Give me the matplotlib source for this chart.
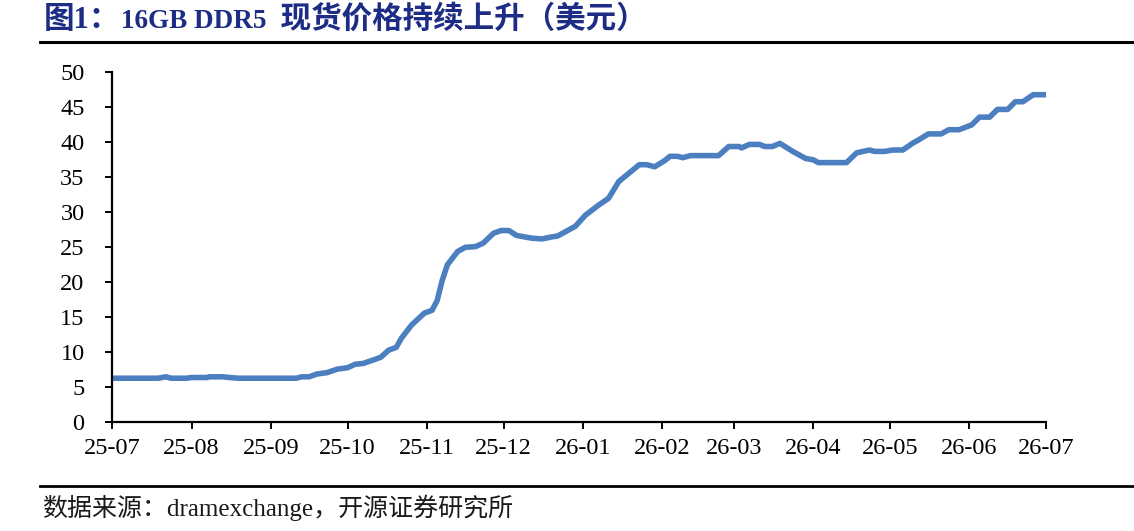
#!/usr/bin/env python3
"""16GB DDR5 spot price chart."""
import pandas as pd
import matplotlib
matplotlib.use("Agg")
import matplotlib.pyplot as plt
import matplotlib.dates as mdates
from matplotlib.lines import Line2D
from matplotlib.offsetbox import TextArea, HPacker, AnchoredOffsetbox

plt.rcParams['font.family'] = ['Liberation Serif', 'Noto Sans CJK SC']

title_parts = ["图1：", "16GB DDR5 ", " 现货价格持续上升（美元）"]
source = "数据来源：dramexchange，开源证券研究所"

dates = [
    "2025-07-01", "2025-07-19", "2025-07-22", "2025-07-24", "2025-07-30",
    "2025-08-01", "2025-08-07", "2025-08-08", "2025-08-13", "2025-08-16",
    "2025-08-19", "2025-09-11", "2025-09-13", "2025-09-16", "2025-09-19",
    "2025-09-23", "2025-09-27", "2025-10-01", "2025-10-04", "2025-10-07",
    "2025-10-11", "2025-10-14", "2025-10-17", "2025-10-20", "2025-10-22",
    "2025-10-26", "2025-10-31", "2025-11-03", "2025-11-05", "2025-11-07",
    "2025-11-09", "2025-11-13", "2025-11-16", "2025-11-20", "2025-11-23",
    "2025-11-27", "2025-11-30", "2025-12-03", "2025-12-06", "2025-12-09",
    "2025-12-12", "2025-12-16", "2025-12-20", "2025-12-22", "2025-12-25",
    "2025-12-29", "2026-01-02", "2026-01-07", "2026-01-11", "2026-01-15",
    "2026-01-19", "2026-01-23", "2026-01-26", "2026-01-29", "2026-02-02",
    "2026-02-04", "2026-02-07", "2026-02-09", "2026-02-12", "2026-02-23",
    "2026-02-27", "2026-03-03", "2026-03-04", "2026-03-07", "2026-03-11",
    "2026-03-13", "2026-03-16", "2026-03-19", "2026-03-24", "2026-03-29",
    "2026-04-01", "2026-04-03", "2026-04-14", "2026-04-18", "2026-04-23",
    "2026-04-25", "2026-04-29", "2026-05-02", "2026-05-06", "2026-05-10",
    "2026-05-12", "2026-05-16", "2026-05-21", "2026-05-24", "2026-05-28",
    "2026-06-02", "2026-06-05", "2026-06-09", "2026-06-12", "2026-06-16",
    "2026-06-19", "2026-06-22", "2026-06-26", "2026-07-01",
]
prices = [
    6.3, 6.3, 6.5, 6.3, 6.3,
    6.4, 6.4, 6.5, 6.5, 6.4,
    6.3, 6.3, 6.5, 6.5, 6.9,
    7.1, 7.6, 7.8, 8.3, 8.4,
    8.9, 9.3, 10.3, 10.7, 12.0,
    13.9, 15.6, 16.0, 17.4, 20.3,
    22.5, 24.4, 25.0, 25.1, 25.6,
    27.0, 27.4, 27.4, 26.7, 26.5,
    26.3, 26.2, 26.5, 26.6, 27.2,
    28.0, 29.6, 31.0, 32.0, 34.4,
    35.6, 36.8, 36.8, 36.5, 37.4,
    38.0, 38.0, 37.8, 38.1, 38.1,
    39.4, 39.4, 39.2, 39.7, 39.7,
    39.4, 39.4, 39.85, 38.7, 37.7,
    37.5, 37.1, 37.1, 38.5, 38.9,
    38.7, 38.7, 38.9, 38.9, 39.9,
    40.3, 41.2, 41.2, 41.8, 41.8,
    42.5, 43.6, 43.6, 44.7, 44.7,
    45.8, 45.8, 46.8, 46.8,
]


def main():
    x = pd.to_datetime(dates)

    fig = plt.figure(figsize=(11.34, 5.31), dpi=100)
    ax = fig.add_axes([0.099, 0.2047, 0.8234, 0.6591])

    ax.plot(x, prices, color="#4b7fc0", lw=4.0,
            solid_capstyle="round", solid_joinstyle="round")

    ax.set_xlim(pd.Timestamp("2025-07-01"), pd.Timestamp("2026-07-01"))
    ax.set_ylim(0, 50)
    ax.set_yticks(range(0, 51, 5))
    ax.xaxis.set_major_locator(mdates.MonthLocator())
    ax.xaxis.set_major_formatter(mdates.DateFormatter("%y-%m"))

    for side in ("top", "right"):
        ax.spines[side].set_visible(False)
    for side in ("left", "bottom"):
        ax.spines[side].set_linewidth(1.6)
    ax.tick_params(axis="both", direction="out", length=5, width=1.4,
                   labelsize=17.5, colors="black")
    ax.tick_params(axis="x", pad=6)
    ax.tick_params(axis="y", pad=15)

    # title: CJK glyphs a bit larger than the Latin part
    navy = "#1d2c84"
    sizes = [22, 19.5, 22]
    boxes = [TextArea(t, textprops=dict(fontsize=s, fontweight="bold", color=navy))
             for t, s in zip(title_parts, sizes)]
    pack = HPacker(children=boxes, align="baseline", pad=0, sep=0)
    anchored = AnchoredOffsetbox(loc="center left", child=pack, pad=0, borderpad=0,
                                 frameon=False, bbox_to_anchor=(0.039, 0.962),
                                 bbox_transform=fig.transFigure)
    fig.add_artist(anchored)

    fig.add_artist(Line2D([0.0355, 1.0], [0.921, 0.921], transform=fig.transFigure,
                          color="black", lw=2.2))
    fig.add_artist(Line2D([0.0355, 1.0], [0.085, 0.085], transform=fig.transFigure,
                          color="black", lw=2.0))
    fig.text(0.037, 0.043, source, fontsize=18, color="#1a1a1a",
             va="center", ha="left")

    fig.savefig("out.png", dpi=100)
    plt.close(fig)


if __name__ == "__main__":
    main()
